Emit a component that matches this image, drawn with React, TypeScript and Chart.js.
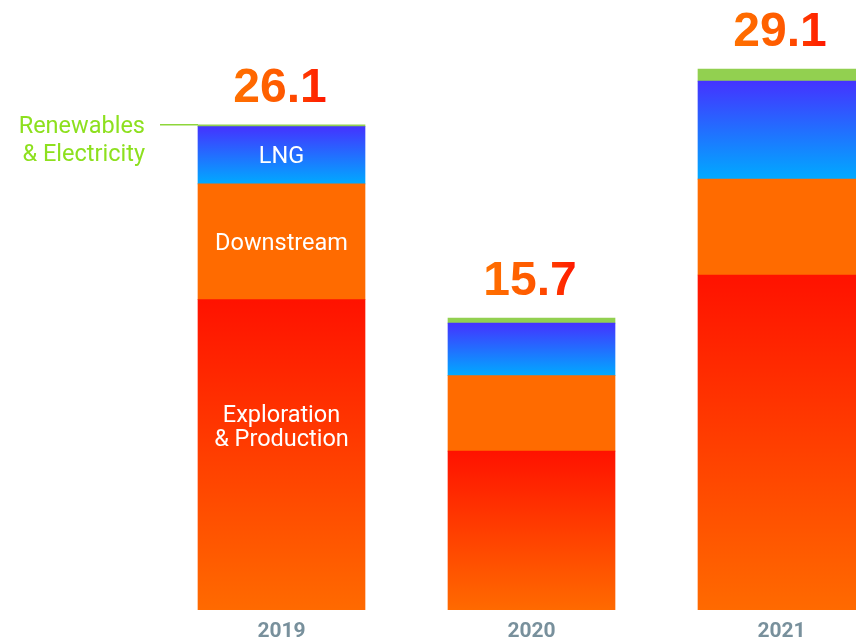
import React, { useEffect, useRef } from 'react';
import { Chart, registerables } from 'chart.js';

Chart.register(...registerables);

const years = [2019, 2020, 2021];
const explorationProduction = [16.7, 8.55, 18.02];
const downstream = [6.22, 4.06, 5.16];
const lng = [3.08, 2.82, 5.27];
const renewables = [0.1, 0.27, 0.65];
const totals = ['26.1', '15.7', '29.1'];
const seriesNames = ['Exploration & Production', 'Downstream', 'LNG', 'Renewables & Electricity'];
const insideLabels = [['Exploration', '& Production'], ['Downstream'], ['LNG']];
const sideLabel = ['Renewables', '& Electricity'];

function vGrad(topColor: string, bottomColor: string) {
  return (ctx: any) => {
    const chart = ctx.chart;
    const ys = chart.scales && chart.scales.y;
    if (ctx.type !== 'data' || !ys || !chart.chartArea) return bottomColor;
    const ds = chart.data.datasets;
    let start = 0;
    for (let k = 0; k < ctx.datasetIndex; k++) {
      const p = ds[k].data[ctx.dataIndex];
      start += Number(p && p.y) || 0;
    }
    const own = ds[ctx.datasetIndex].data[ctx.dataIndex];
    const end = start + (Number(own && own.y) || 0);
    const y0 = ys.getPixelForValue(end);
    const y1 = ys.getPixelForValue(start);
    if (!isFinite(y0) || !isFinite(y1) || y0 === y1) return bottomColor;
    const g = chart.ctx.createLinearGradient(0, y0, 0, y1);
    g.addColorStop(0, topColor);
    g.addColorStop(1, bottomColor);
    return g;
  };
}

const labelPlugin = {
  id: 'customLabels',
  afterDatasetsDraw(chart: any) {
    const c = chart.ctx;
    const metas = [0, 1, 2, 3].map((i) => chart.getDatasetMeta(i));
    c.save();
    // labels inside the first bar
    c.fillStyle = '#ffffff';
    c.font = '23.5px Roboto';
    c.textAlign = 'center';
    c.textBaseline = 'middle';
    insideLabels.forEach((lines, d) => {
      const el = metas[d].data[0];
      if (!el) return;
      const cy = (el.y + el.base) / 2 + (d === 0 ? -27 : 2);
      const lh = 24;
      lines.forEach((t, i) => c.fillText(t, el.x, cy + (i - (lines.length - 1) / 2) * lh));
    });
    // side label for renewables
    const topEl = metas[3].data[0];
    if (topEl) {
      const left = topEl.x - topEl.width / 2;
      c.strokeStyle = '#8ed63a';
      c.lineWidth = 1.5;
      c.beginPath();
      c.moveTo(left - 38, topEl.y);
      c.lineTo(left, topEl.y);
      c.stroke();
      c.fillStyle = '#8de01e';
      c.textAlign = 'right';
      sideLabel.forEach((t, i) => c.fillText(t, left - 53, topEl.y + 2 + i * 28));
    }
    // totals
    c.font = 'bold 48px "Liberation Sans"';
    c.textAlign = 'center';
    c.textBaseline = 'alphabetic';
    metas[3].data.forEach((el: any, j: number) => {
      const w = c.measureText(totals[j]).width;
      const g = c.createLinearGradient(el.x - w / 2, 0, el.x + w / 2, 0);
      g.addColorStop(0, '#ff7000');
      g.addColorStop(0.5, '#ff5a00');
      g.addColorStop(1, '#ff1400');
      c.fillStyle = g;
      c.fillText(totals[j], el.x - 1.5, el.y - 23);
    });
    c.restore();
  },
};

export default function App() {
  const ref = useRef<HTMLCanvasElement>(null);
  useEffect(() => {
    if (!ref.current) return;
    const toPts = (arr: number[]) => arr.map((v, i) => ({ x: years[i], y: v }));
    const chart = new Chart(ref.current, {
      type: 'bar',
      data: {
        datasets: [
          { label: seriesNames[0], data: toPts(explorationProduction), backgroundColor: vGrad('#ff1200', '#ff6a00') },
          { label: seriesNames[1], data: toPts(downstream), backgroundColor: '#ff6b00' },
          { label: seriesNames[2], data: toPts(lng), backgroundColor: vGrad('#4433ff', '#00aaff') },
          { label: seriesNames[3], data: toPts(renewables), backgroundColor: '#92d050' },
        ] as any,
      },
      options: {
        animation: false,
        responsive: false,
        maintainAspectRatio: false,
        layout: { padding: 0 },
        datasets: { bar: { barThickness: 167, borderWidth: 0 } } as any,
        plugins: { legend: { display: false }, tooltip: { enabled: false } },
        scales: {
          x: {
            type: 'linear',
            stacked: true,
            offset: false,
            bounds: 'data',
            min: 2019 - 281.5 / 250,
            max: 2019 - 281.5 / 250 + 856 / 250,
            afterBuildTicks: (scale: any) => {
              scale.ticks = years.map((v) => ({ value: v }));
            },
            afterFit: (scale: any) => {
              scale.height = 30;
            },
            grid: { display: false, drawTicks: false, offset: false },
            border: { display: false },
            ticks: {
              padding: 11,
              maxRotation: 0,
              autoSkip: false,
              color: '#78909c',
              font: { family: 'Roboto', size: 21, weight: 'bold', lineHeight: 1 },
              callback: (v: any) => String(v),
            },
          } as any,
          y: {
            stacked: true,
            display: false,
            min: 0,
            max: 610 / 18.59,
          },
        },
      },
      plugins: [labelPlugin],
    });
    return () => chart.destroy();
  }, []);
  return (
    <div style={{ position: 'absolute', left: 0, top: 0, width: 856, height: 640, background: '#fff' }}>
      <canvas ref={ref} width={856} height={640} style={{ display: 'block' }} />
    </div>
  );
}
